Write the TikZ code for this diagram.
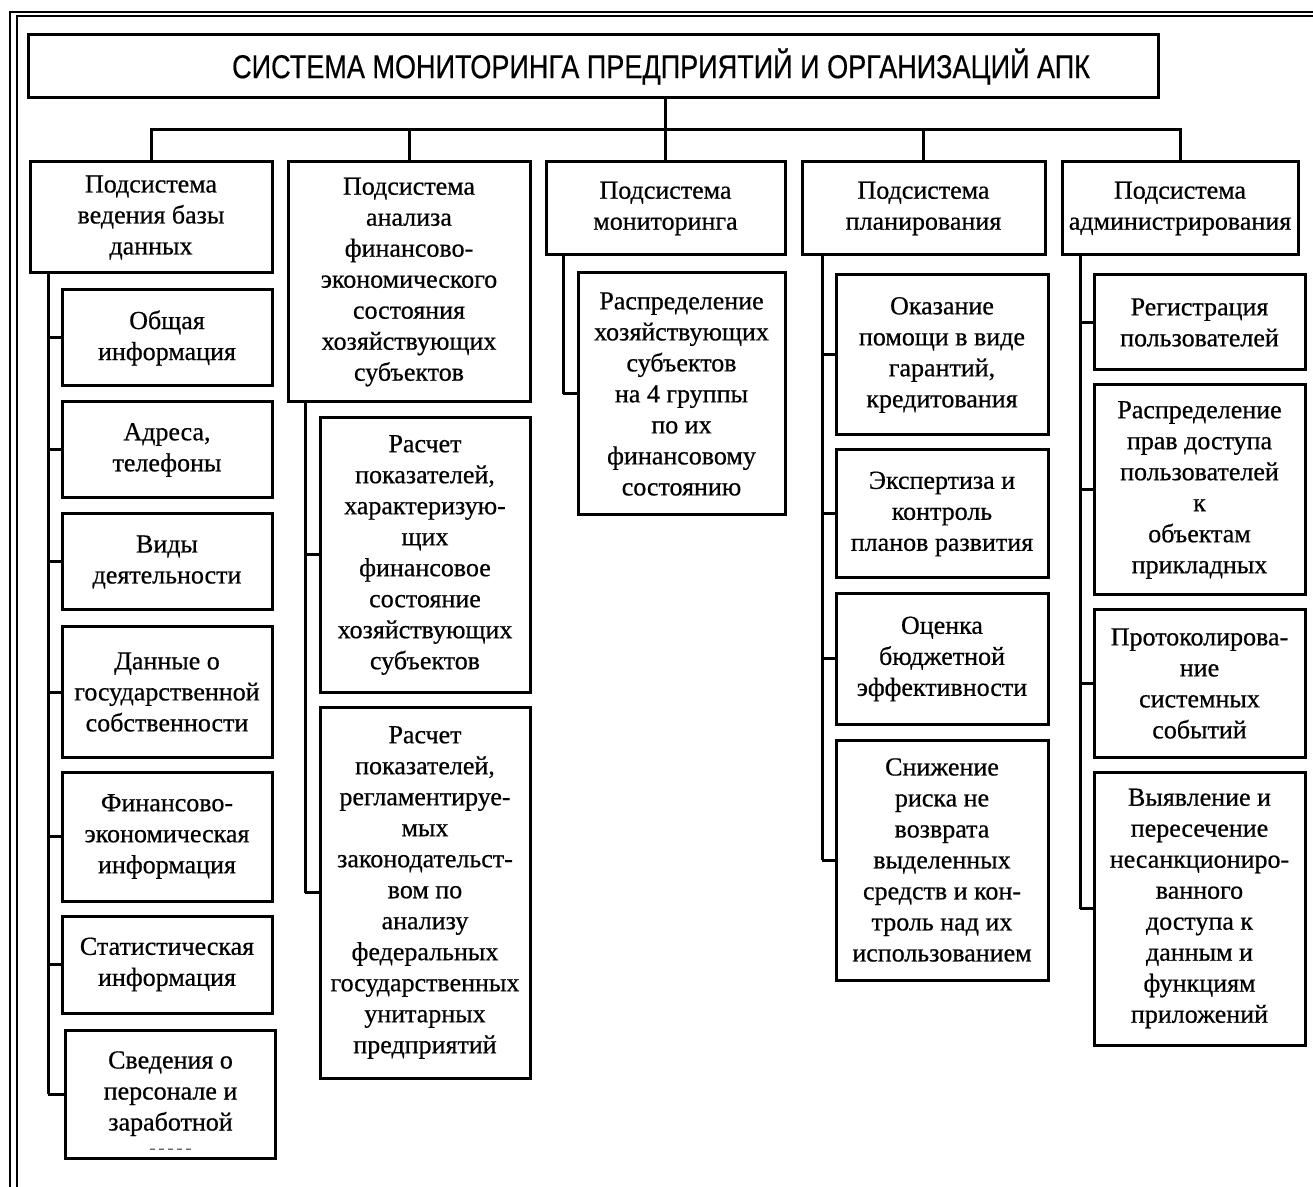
\documentclass[tikz,border=0pt]{standalone}
\usepackage{fontspec}
\setmainfont[FakeBold=0.6]{Liberation Serif}
\newfontfamily\titlefont[FakeStretch=0.82,FakeBold=0.4]{Liberation Sans}
\begin{document}
\begin{tikzpicture}[x=0.5pt,y=-0.5pt]
			\tikzstyle{box}=[draw=black,line width=1.5pt,rectangle,align=center,inner sep=1pt,font=\fontsize{13}{15.5}\selectfont]
			\tikzstyle{head}=[box,minimum height=46.5pt]
			\tikzstyle{leaf}=[box,minimum width=105pt]
			\tikzstyle{wire}=[line width=1.5pt]
			\tikzstyle{frame}=[line width=0.9pt]
			\useasboundingbox (0,0) rectangle (1313,1187);
			% page frame
			\draw[frame] (10,1187) -- (10,12) -- (1313,12);
			\draw[frame] (17,1187) -- (17,16) -- (1313,16);

			\node[box,minimum width=565pt,minimum height=31.5pt,font=\titlefont\fontsize{16.5}{18}\selectfont] (top) at (593,66.5)
				{\hspace*{68pt}СИСТЕМА МОНИТОРИНГА ПРЕДПРИЯТИЙ И ОРГАНИЗАЦИЙ АПК};

			\begin{scope}
			\node[head,minimum width=121pt,minimum height=55.5pt] (s-1) at (151,217.5) {Подсистема\\ведения базы\\данных};
			\node[head,minimum width=121pt,minimum height=120pt] (s-2) at (409,282) {Подсистема\\анализа\\финансово-\\экономического\\состояния\\хозяйствующих\\субъектов};
			\node[head,minimum width=119.5pt] (s-3) at (665.5,208.5) {Подсистема\\мониторинга};
			\node[head,minimum width=121.5pt] (s-4) at (923.5,208.5) {Подсистема\\планирования};
			\node[head,minimum width=118pt] (s-5) at (1180,208.5) {Подсистема\\администрирования};
			\end{scope}

			\begin{scope}
			\node[leaf,minimum height=48pt] (1-1) at (167,338) {Общая\\информация};
			\node[leaf,minimum height=48pt] (1-2) at (167,450) {Адреса,\\телефоны};
			\node[leaf,minimum height=48pt] (1-3) at (167,562) {Виды\\деятельности};
			\node[leaf,minimum height=65pt] (1-4) at (167,692) {Данные о\\государственной\\собственности};
			\node[leaf,minimum height=64.5pt] (1-5) at (167,836.5) {Финансово-\\экономическая\\информация};
			\node[leaf,minimum height=48.5pt] (1-6) at (167,964.5) {Статистическая\\информация};
			\node[leaf,minimum height=64pt] (1-7) at (170.5,1094) {\rule{0pt}{17pt}Сведения о\\персонале и\\заработной\\[-4pt]{\fontsize{9}{10}\selectfont\color{black!60}-\,-\,-\,-\,-}};

			\node[leaf,minimum height=137pt] (2-1) at (425,555) {Расчет\\показателей,\\характеризую-\\щих\\финансовое\\состояние\\хозяйствующих\\субъектов};
			\node[leaf,minimum height=185.5pt] (2-2) at (425,892.5) {Расчет\\показателей,\\регламентируе-\\мых\\законодательст-\\вом по\\анализу\\федеральных\\государственных\\унитарных\\предприятий};

			\node[leaf,minimum width=103.5pt,minimum height=121pt] (3-1) at (681.5,394) {Распределение\\хозяйствующих\\субъектов\\на 4 группы\\по их\\финансовому\\состоянию};

			\node[leaf,minimum width=106pt,minimum height=80pt] (4-1) at (942,355) {Оказание\\помощи в виде\\гарантий,\\кредитования};
			\node[leaf,minimum width=106pt,minimum height=64pt] (4-2) at (942,514) {Экспертиза и\\контроль\\планов развития};
			\node[leaf,minimum width=106pt,minimum height=65pt] (4-3) at (942,659) {Оценка\\бюджетной\\эффективности};
			\node[leaf,minimum width=106pt,minimum height=120pt] (4-4) at (942,860) {Снижение\\риска не\\возврата\\выделенных\\средств и кон-\\троль над их\\использованием};

			\node[leaf,minimum width=105.5pt,minimum height=47.5pt] (5-1) at (1199.5,322.5) {Регистрация\\пользователей};
			\node[leaf,minimum width=105.5pt,minimum height=105pt] (5-2) at (1199.5,490) {Распределение\\прав доступа\\пользователей\\к\\объектам\\прикладных};
			\node[leaf,minimum width=105.5pt,minimum height=73.5pt] (5-3) at (1199.5,683.5) {Протоколирова-\\ние\\системных\\событий};
			\node[leaf,minimum width=105.5pt,minimum height=136.5pt] (5-4) at (1199.5,908.5) {Выявление и\\пересечение\\несанкциониро-\\ванного\\доступа к\\данным и\\функциям\\приложений};
			\end{scope}

			% bus from the top box
			\coordinate (bus) at (665.5,130);
			\draw[wire] (s-3.north) -- (s-3.north |- top.south);
			\draw[wire] (s-1.north) |- (bus) -| (s-5.north);
			\draw[wire] (s-2.north) -- (s-2.north |- bus);
			\draw[wire] (s-4.north) -- (s-4.north |- bus);

			% trunks
			\coordinate (t-1) at (48,1094);
			\coordinate (t-2) at (305,892.5);
			\coordinate (t-3) at (563,394);
			\coordinate (t-4) at (822,860);
			\coordinate (t-5) at (1080,908.5);
			\draw[wire] (s-1.south -| t-1) -- (t-1);
			\draw[wire] (s-2.south -| t-2) -- (t-2);
			\draw[wire] (s-3.south -| t-3) -- (t-3);
			\draw[wire] (s-4.south -| t-4) -- (t-4);
			\draw[wire] (s-5.south -| t-5) -- (t-5);

			\foreach \n in {1-1,1-2,1-3,1-4,1-5,1-6,1-7}
				\draw[wire] (\n.west -| t-1) -- (\n.west);
			\foreach \n in {2-1,2-2}
				\draw[wire] (\n.west -| t-2) -- (\n.west);
			\draw[wire] (3-1.west -| t-3) -- (3-1.west);
			\foreach \n in {4-1,4-2,4-3,4-4}
				\draw[wire] (\n.west -| t-4) -- (\n.west);
			\foreach \n in {5-1,5-2,5-3,5-4}
				\draw[wire] (\n.west -| t-5) -- (\n.west);
		\end{tikzpicture}
\end{document}
